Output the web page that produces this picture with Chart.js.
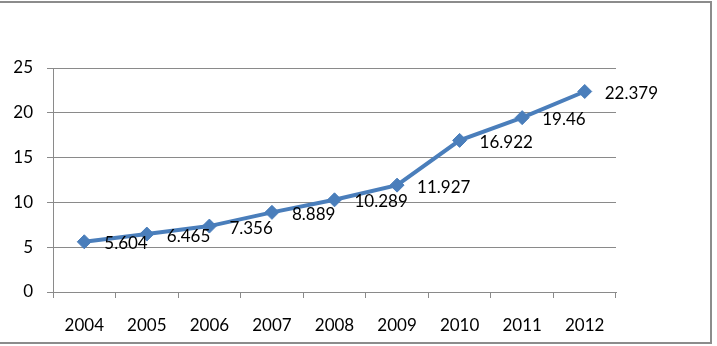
<!DOCTYPE html>
<html>
<head>
<meta charset="utf-8">
<script src="https://cdn.jsdelivr.net/npm/chart.js@4/dist/chart.umd.min.js"></script>
<style>
  html, body { margin: 0; padding: 0; background: #fff; }
  #wrap { width: 717px; height: 346px; position: relative; }
</style>
</head>
<body>
<div id="wrap"><canvas id="lineChart" width="717" height="346"></canvas></div>
<script>
const years = ['2004', '2005', '2006', '2007', '2008', '2009', '2010', '2011', '2012'];
const values = [5.604, 6.465, 7.356, 8.889, 10.289, 11.927, 16.922, 19.46, 22.379];
const valueLabels = ['5.604', '6.465', '7.356', '8.889', '10.289', '11.927', '16.922', '19.46', '22.379'];

const lineColor = '#4A7EBB';
const gridColor = '#8a8a8a';

// frame round the whole chart, like the Excel chart border
const framePlugin = {
  id: 'frame',
  beforeDraw(chart) {
    const c = chart.ctx;
    c.save();
    c.fillStyle = '#fff';
    c.fillRect(0, 0, chart.width, chart.height);
    c.restore();
  },
  afterDraw(chart) {
    const c = chart.ctx;
    c.save();
    c.strokeStyle = '#8c8c8c';
    c.lineWidth = 2;
    c.strokeRect(-2, 2, 713, 341);
    c.restore();
  }
};

// value labels to the right of each marker
const labelPlugin = {
  id: 'valueLabels',
  afterDatasetsDraw(chart) {
    const c = chart.ctx;
    const meta = chart.getDatasetMeta(0);
    c.save();
    c.font = '17px Lato';
    c.fillStyle = '#000';
    c.textAlign = 'left';
    c.textBaseline = 'middle';
    meta.data.forEach((pt, i) => {
      c.fillText(valueLabels[i], pt.x + 20, pt.y + 2);
    });
    c.restore();
  }
};

new Chart(document.getElementById('lineChart'), {
  type: 'line',
  data: {
    labels: years,
    datasets: [{
      data: values,
      borderColor: lineColor,
      backgroundColor: lineColor,
      borderWidth: 4,
      pointStyle: 'rectRot',
      pointRadius: 7,
      pointHoverRadius: 7,
      pointBorderWidth: 1,
      tension: 0
    }]
  },
  options: {
    responsive: false,
    animation: false,
    layout: { padding: { left: 0, right: 101, top: 68, bottom: 0 } },
    plugins: { legend: { display: false }, tooltip: { enabled: false } },
    scales: {
      x: {
        offset: true,
        grid: { offset: true, drawOnChartArea: false, color: gridColor, tickLength: 6, lineWidth: 1 },
        border: { color: gridColor, width: 1 },
        ticks: { color: '#000', font: { family: 'Lato', size: 17 }, padding: 17, maxRotation: 0 },
        afterFit(scale) { scale.height = 54; }
      },
      y: {
        min: 0,
        max: 25,
        ticks: { stepSize: 5, color: '#000', font: { family: 'Lato', size: 17 }, padding: 14 },
        grid: { color: gridColor, tickLength: 6, lineWidth: 1 },
        border: { color: gridColor, width: 1 },
        afterFit(scale) { scale.width = 53; }
      }
    }
  },
  plugins: [framePlugin, labelPlugin]
});
</script>
</body>
</html>
